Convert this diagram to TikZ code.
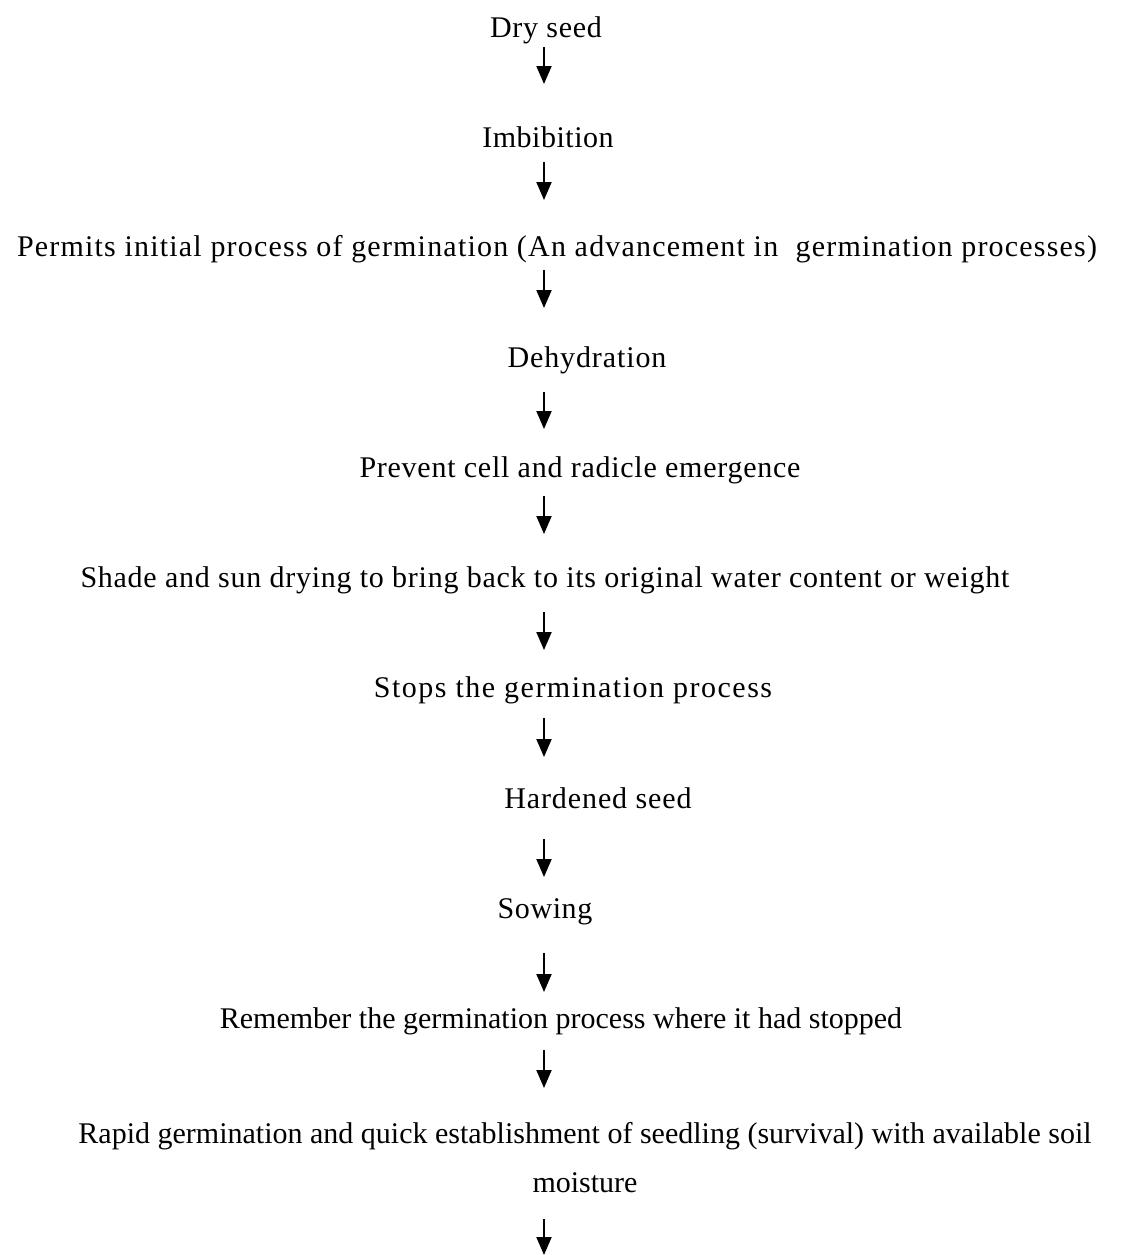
\documentclass[tikz,border=0pt]{standalone}
\usepackage{fontspec}
\setmainfont{Liberation Serif}
\usetikzlibrary{arrows.meta, positioning}

\newcommand{\stagefont}{\fontsize{12}{14.4}\selectfont}

\begin{document}
\begin{tikzpicture}[
  x=0.4pt, y=-0.4pt,
  stage/.style={
    inner sep=0pt,
    anchor=base,
    font=\stagefont
  },
  spaced/.style={
    font=\stagefont\addfontfeature{LetterSpace=#1}
  },
  flow/.style={
    -{Triangle[length=7.2pt, width=6pt]},
    line width=0.8pt,
    draw=black
  }
]
\useasboundingbox (0,0) rectangle (1139,1255);

% Nodes (x = centre, y = baseline, in pixels of the page)
\node[stage, spaced=2.5] (dry)      at (546,37)   {Dry seed};
\node[stage, spaced=1.7] (imbib)    at (548,147)  {Imbibition};
\node[stage, spaced=4]   (permits)  at (557,256)  {Permits initial process of germination (An advancement in\ \ germination processes)};
\node[stage, spaced=3]   (dehyd)    at (587,367)  {Dehydration};
\node[stage, spaced=2.5] (prevent)  at (580,477)  {Prevent cell and radicle emergence};
\node[stage, spaced=2.5] (shade)    at (545,587)  {Shade and sun drying to bring back to its original water content or weight};
\node[stage, spaced=5]   (stops)    at (573,697)  {Stops the germination process};
\node[stage, spaced=3]   (hardened) at (598,808)  {Hardened seed};
\node[stage, spaced=2]   (sowing)   at (545,918)  {Sowing};
\node[stage] (remember) at (561,1028) {Remember the germination process where it had stopped};
\node[stage, anchor=north, align=center] (rapid) at (585,1122)
  {Rapid germination and quick establishment of seedling (survival) with available soil\\[5.2pt]moisture};

% Arrow column
\coordinate (ax)   at (544,0);
\coordinate (tail) at (544,1255);

% Flow
\draw[flow, shorten <=4pt,    shorten >=25.2pt] (dry.base -| ax)      -- (imbib.base -| ax);
\draw[flow, shorten <=6pt,    shorten >=22.4pt] (imbib.base -| ax)    -- (permits.base -| ax);
\draw[flow, shorten <=5.6pt,  shorten >=23.6pt] (permits.base -| ax)  -- (dehyd.base -| ax);
\draw[flow, shorten <=10pt,   shorten >=19.2pt] (dehyd.base -| ax)    -- (prevent.base -| ax);
\draw[flow, shorten <=7.6pt,  shorten >=21.2pt] (prevent.base -| ax)  -- (shade.base -| ax);
\draw[flow, shorten <=10pt,   shorten >=18.8pt] (shade.base -| ax)    -- (stops.base -| ax);
\draw[flow, shorten <=8.4pt,  shorten >=20.4pt] (stops.base -| ax)    -- (hardened.base -| ax);
\draw[flow, shorten <=12.4pt, shorten >=16.4pt] (hardened.base -| ax) -- (sowing.base -| ax);
\draw[flow, shorten <=14pt,   shorten >=14.4pt] (sowing.base -| ax)   -- (remember.base -| ax);
\draw[flow, shorten <=8.8pt,  shorten >=13.6pt] (remember.base -| ax) -- (rapid.north -| ax);
\draw[flow, shorten <=10.4pt] (rapid.south -| ax) -- (tail);

\end{tikzpicture}
\end{document}
